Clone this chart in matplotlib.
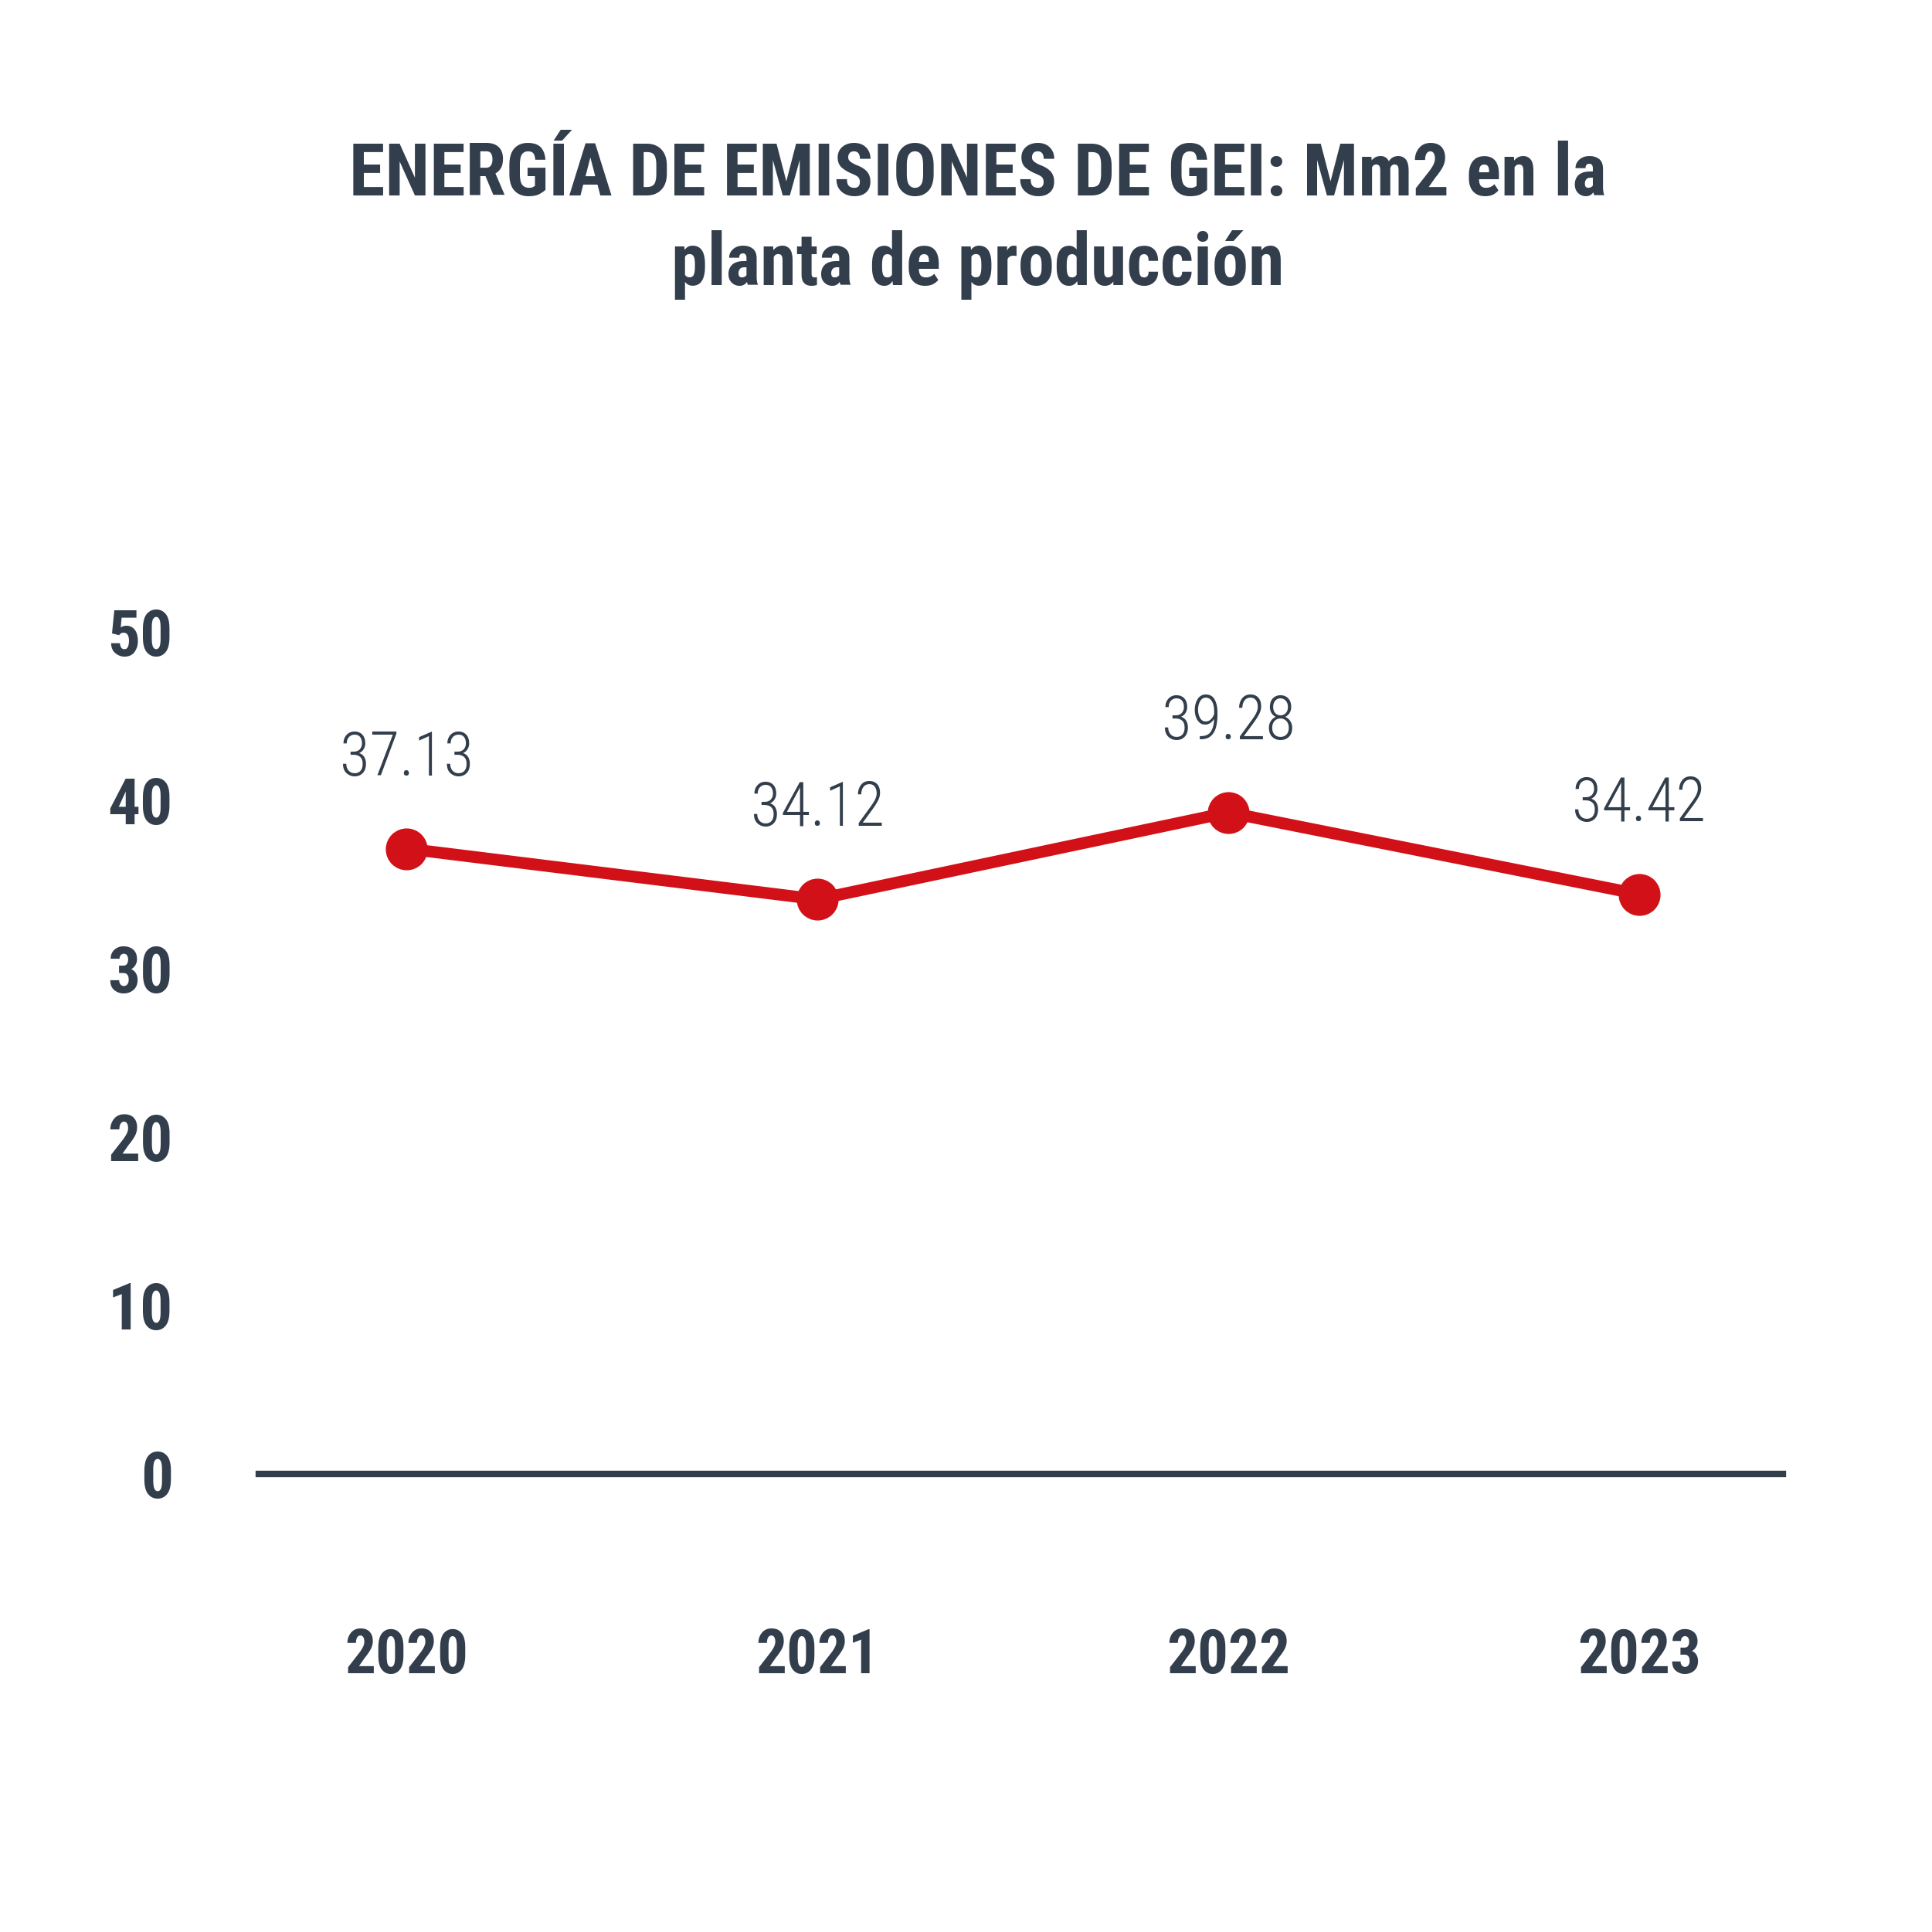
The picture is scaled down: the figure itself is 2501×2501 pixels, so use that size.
import numpy as np
from matplotlib import pyplot as plt
from matplotlib import font_manager as fm

# data
years = ['2020', '2021', '2022', '2023']
values = [37.13, 34.12, 39.28, 34.42]
y_ticks = [0, 10, 20, 30, 40, 50]

dark = '#333e4c'
red = '#d21018'


def pick_family(wanted):
    '''return the first installed family from the list'''
    names = set(f.name for f in fm.fontManager.ttflist)
    for w in wanted:
        if w in names:
            return w
    return 'DejaVu Sans'


cond = pick_family(['Roboto Condensed', 'Liberation Sans Narrow', 'DejaVu Sans Condensed'])
light = pick_family(['Roboto Condensed', 'Roboto', 'Liberation Sans Narrow'])

fig = plt.figure(figsize=(25.01, 25.01), dpi=100)
ax = fig.add_axes([335 / 2501, 593 / 2501, 1973 / 2501, 1199 / 2501])

x = np.arange(len(years))
ax.plot(x, values, color=red, lw=11, marker='o', ms=38, zorder=3, clip_on=False)
# baseline at zero, not clipped so the full width shows
ax.axhline(0, color=dark, lw=6, zorder=2, clip_on=False)

for xi, v in zip(x, values):
    ax.annotate('{:.2f}'.format(v), (xi, v), xytext=(0, 84), textcoords='offset points',
                ha='center', va='center', fontsize=57, color=dark,
                family=light, fontweight=300)

ax.set_xlim(-0.36, 3.35)
ax.set_ylim(0, 55)
ax.set_xticks(x)
ax.set_xticklabels(years)
ax.set_yticks(y_ticks)
for lab in ax.get_xticklabels():
    lab.set_family(cond)
    lab.set_fontweight('bold')
    lab.set_fontsize(57)
    lab.set_color(dark)
for lab in ax.get_yticklabels():
    lab.set_family(cond)
    lab.set_fontweight('bold')
    lab.set_fontsize(60)
    lab.set_color(dark)
ax.tick_params(axis='x', length=0, pad=143)
ax.tick_params(axis='y', length=0, pad=80)
for s in ax.spines.values():
    s.set_visible(False)

fig.text(0.506, 1 - 285 / 2501, 'ENERGÍA DE EMISIONES DE GEI: Mm2 en la\nplanta de producción',
         ha='center', va='center', fontsize=68, fontweight='bold', family=cond,
         color=dark, linespacing=1.36)

fig.savefig('out.png', dpi=100, facecolor='white')
